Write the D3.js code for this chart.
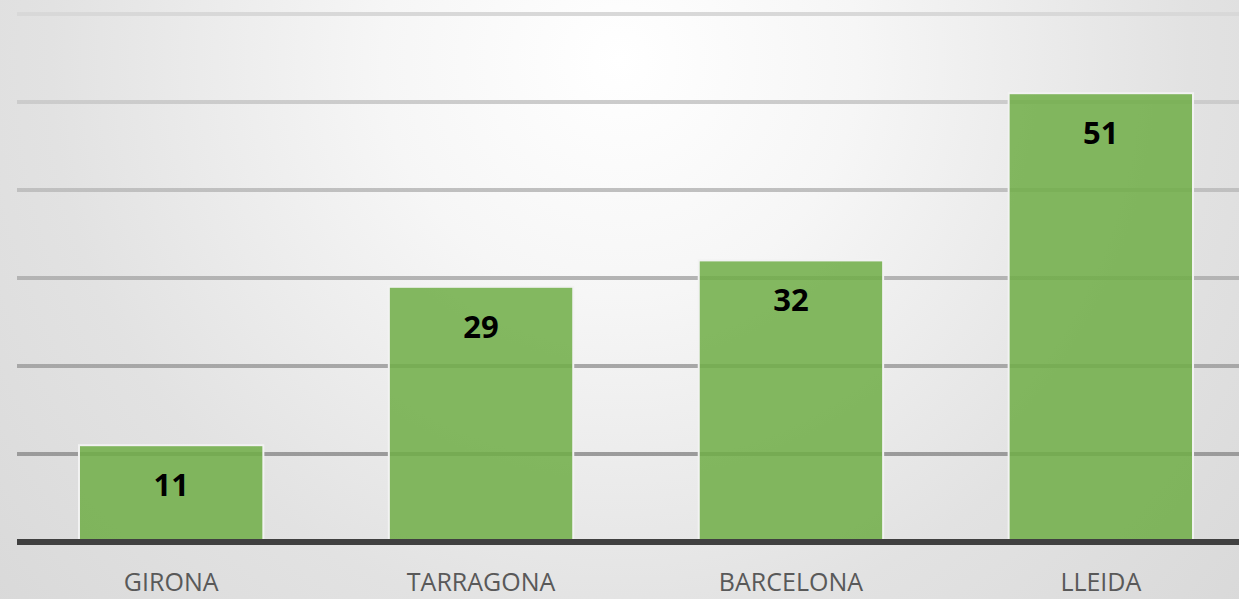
<!DOCTYPE html>
<html>
<head>
<meta charset="utf-8">
<script src="https://cdn.jsdelivr.net/npm/d3@7"></script>
<style>
  html, body { margin: 0; padding: 0; overflow: hidden; }
  svg { display: block; }
</style>
</head>
<body>
<div id="chart"></div>
<script>
// data
const provinces = ["GIRONA", "TARRAGONA", "BARCELONA", "LLEIDA"];
const counts = [11, 29, 32, 51];
const yTicks = [10, 20, 30, 40, 50, 60];

const width = 1239, height = 599;
const margin = {left: 17, right: -16, top: 14, bottom: 57};

const svg = d3.select("#chart").append("svg")
    .attr("width", width)
    .attr("height", height);

const defs = svg.append("defs");
const bg = defs.append("radialGradient")
    .attr("id", "bg")
    .attr("gradientUnits", "userSpaceOnUse")
    .attr("cx", 620).attr("cy", 60).attr("r", 950);
bg.append("stop").attr("offset", "0%").attr("stop-color", "#ffffff");
bg.append("stop").attr("offset", "25%").attr("stop-color", "#f6f6f6");
bg.append("stop").attr("offset", "60%").attr("stop-color", "#e2e2e2");
bg.append("stop").attr("offset", "100%").attr("stop-color", "#d5d5d5");

const gridGrad = defs.append("linearGradient")
    .attr("id", "gridGrad")
    .attr("gradientUnits", "userSpaceOnUse")
    .attr("x1", 0).attr("y1", 0).attr("x2", 0).attr("y2", 540);
gridGrad.append("stop").attr("offset", "0%").attr("stop-color", "#dadada");
gridGrad.append("stop").attr("offset", "100%").attr("stop-color", "#8f8f8f");

svg.append("rect")
    .attr("width", width).attr("height", height)
    .attr("fill", "url(#bg)");

const x = d3.scaleBand()
    .domain(provinces)
    .range([margin.left, width - margin.right])
    .paddingInner(0.405)
    .paddingOuter(0.2);

const y = d3.scaleLinear()
    .domain([0, 60])
    .range([height - margin.bottom, margin.top]);

// gridlines
svg.append("g")
    .selectAll("line")
    .data(yTicks)
    .join("line")
      .attr("x1", margin.left)
      .attr("x2", width)
      .attr("y1", d => y(d))
      .attr("y2", d => y(d))
      .attr("stroke", "url(#gridGrad)")
      .attr("stroke-width", 4);

// bars
svg.append("g")
    .selectAll("rect")
    .data(counts)
    .join("rect")
      .attr("x", (d, i) => x(provinces[i]))
      .attr("y", d => y(d))
      .attr("width", x.bandwidth())
      .attr("height", d => y(0) - y(d))
      .attr("fill", "#70ad47")
      .attr("fill-opacity", 0.86)
      .attr("stroke", "#f2f2f2")
      .attr("stroke-width", 2);

// value labels
svg.append("g")
    .selectAll("text")
    .data(counts)
    .join("text")
      .attr("x", (d, i) => x(provinces[i]) + x.bandwidth() / 2)
      .attr("y", d => y(d) + 51)
      .attr("text-anchor", "middle")
      .attr("font-family", "'Open Sans', 'Liberation Sans', sans-serif")
      .attr("font-weight", "bold")
      .attr("font-size", "31px")
      .attr("fill", "#000")
      .text(d => d);

// baseline
svg.append("line")
    .attr("x1", margin.left).attr("x2", width)
    .attr("y1", y(0)).attr("y2", y(0))
    .attr("stroke", "#404040")
    .attr("stroke-width", 6);

// category axis
const xAxis = svg.append("g")
    .attr("transform", "translate(0," + y(0) + ")")
    .call(d3.axisBottom(x).tickSize(0).tickPadding(31));
xAxis.select(".domain").remove();
xAxis.selectAll("text")
    .attr("font-family", "'Open Sans', 'Liberation Sans', sans-serif")
    .attr("font-size", "25px")
    .attr("fill", "#595959");
</script>
</body>
</html>
